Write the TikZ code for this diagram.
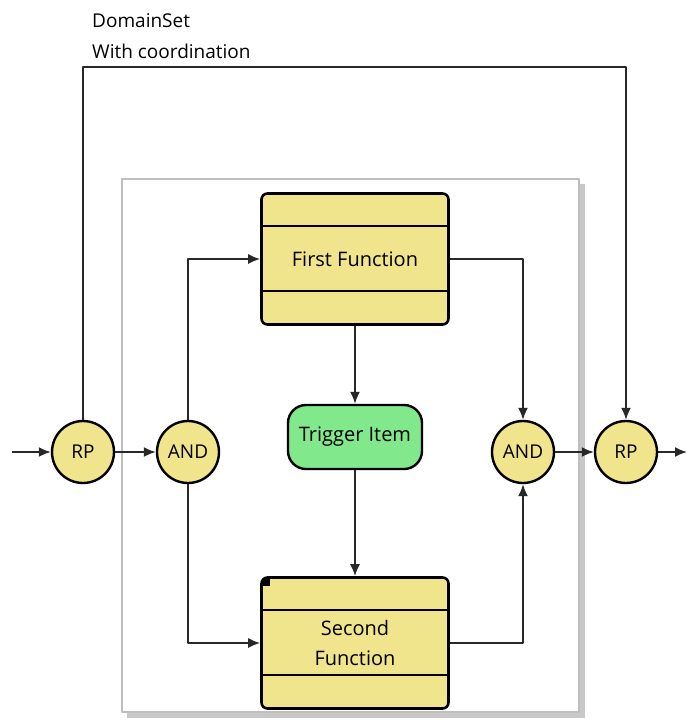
\documentclass[tikz,border=0pt]{standalone}
\usepackage{fontspec}
\setmainfont{Open Sans}
\usetikzlibrary{arrows.meta,positioning}
\definecolor{gateyellow}{RGB}{240,228,140}
\definecolor{trigreen}{RGB}{130,232,140}
\definecolor{framegray}{RGB}{190,190,190}
\definecolor{linegray}{RGB}{40,40,40}
\tikzset{
  gate/.style={circle,draw=black,line width=2.4pt,fill=gateyellow,minimum size=62pt,inner sep=0pt,font=\fontsize{19}{22}\selectfont},
  funcbox/.style={rectangle,rounded corners=6pt,draw=black,line width=2.6pt,fill=gateyellow,minimum width=187pt,minimum height=131pt,align=center,font=\fontsize{20}{30}\selectfont},
  trig/.style={rectangle,rounded corners=18pt,draw=black,line width=2.4pt,fill=trigreen,minimum width=134pt,minimum height=64pt,inner sep=2pt,font=\fontsize{20}{22}\selectfont},
  flow/.style={draw=linegray,line width=1.8pt,-{Latex[length=12pt,width=10pt]}},
}
\begin{document}
\begin{tikzpicture}[x=1pt,y=-1pt,line join=round]
\useasboundingbox (0,0) rectangle (687,721);
% frame with shadow
\fill[framegray!85] (127,184) rectangle (585,718);
\filldraw[fill=white,draw=framegray,line width=2pt] (122,179) rectangle (579,712);
% nodes
\node[gate] (rpIn) at (83,452) {RP};
\node[gate] (andSplit) at (188,452) {AND};
\node[gate] (andJoin) at (523,452) {AND};
\node[gate] (rpOut) at (626,452) {RP};
\node[funcbox] (first) at (355,259) {First Function};
\node[funcbox] (second) at (355,643) {Second\\Function};
\node[trig] (trigger) at (355,437) {Trigger Item};
\foreach \b in {first,second}{
  \draw[black,line width=1.6pt] ([yshift=-34]\b.north west) -- ([yshift=-34]\b.north east);
  \draw[black,line width=1.6pt] ([yshift=35]\b.south west) -- ([yshift=35]\b.south east);
}
\fill[black] ([shift={(3,3)}]second.north west) rectangle ++(7,7);
% labels
\node[anchor=west,inner sep=0pt,font=\fontsize{19}{22}\selectfont] (lblA) at (92,21) {DomainSet};
\node[anchor=west,inner sep=0pt,font=\fontsize{19}{22}\selectfont] (lblB) at (92,51) {With coordination};
% connectors
\coordinate (inStart) at (12,452);
\coordinate (outEnd) at (687,452);
\draw[flow] (inStart) -- (rpIn);
\draw[flow] (rpIn) -- (andSplit);
\draw[flow] (andJoin) -- (rpOut);
\draw[flow] (rpOut) -- (outEnd);
\draw[flow] (rpIn.north) |- (83,67) -| (rpOut.north);
\draw[flow] (andSplit.north) |- (first.west);
\draw[flow] (andSplit.south) |- (second.west);
\draw[flow] (first.east) -| (andJoin.north);
\draw[flow] (second.east) -| (andJoin.south);
\draw[flow] (first.south) -- (trigger.north);
\draw[flow] (trigger.south) -- (second.north);
\end{tikzpicture}
\end{document}
